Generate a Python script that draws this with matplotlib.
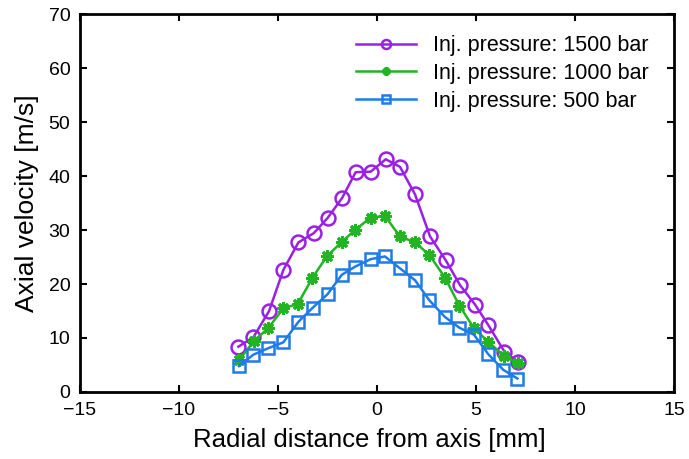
import matplotlib
matplotlib.use("Agg")
import matplotlib.pyplot as plt

plt.rcParams['font.family'] = ['Liberation Sans', 'DejaVu Sans']

x_1500 = [-7.0, -6.25, -5.45, -4.73, -3.97, -3.2, -2.5, -1.75, -1.08, -0.32,
          0.44, 1.16, 1.92, 2.68, 3.47, 4.19, 4.95, 5.62, 6.43, 7.14]
v_1500 = [8.4, 10.1, 15.0, 22.6, 27.7, 29.4, 32.2, 36.0, 40.7, 40.8,
          43.1, 41.7, 36.6, 28.8, 24.4, 19.8, 16.2, 12.4, 7.5, 5.5]

x_1000 = [-6.97, -6.2, -5.5, -4.73, -4.0, -3.27, -2.54, -1.78, -1.11, -0.32,
          0.4, 1.16, 1.92, 2.64, 3.43, 4.16, 4.9, 5.62, 6.41, 7.14]
v_1000 = [5.9, 9.5, 11.8, 15.5, 16.3, 21.1, 25.1, 27.8, 30.0, 32.3,
          32.6, 28.8, 27.7, 25.4, 21.2, 16.0, 11.8, 9.3, 6.7, 5.3]

x_500 = [-6.97, -6.25, -5.5, -4.73, -3.97, -3.25, -2.5, -1.78, -1.11, -0.32,
         0.4, 1.16, 1.92, 2.64, 3.43, 4.16, 4.9, 5.62, 6.38, 7.09]
v_500 = [4.8, 6.9, 8.1, 9.2, 13.0, 15.6, 18.1, 21.7, 23.2, 24.6,
         25.1, 22.9, 20.7, 17.0, 13.9, 11.9, 10.6, 7.0, 4.1, 2.5]

labels = ['Inj. pressure: 1500 bar', 'Inj. pressure: 1000 bar', 'Inj. pressure: 500 bar']
colors = ['#9A20E8', '#22B422', '#1E7BE8']

xticks = [-15, -10, -5, 0, 5, 10, 15]
yticks = [0, 10, 20, 30, 40, 50, 60, 70]

fig = plt.figure(figsize=(6.89, 4.59), dpi=100)
ax = fig.add_axes([80/689, 1-392/459, (674-80)/689, (392-14)/459])

ax.plot(x_1500, v_1500, '-o', color=colors[0], lw=1.8, ms=10, mfc='none', mew=1.8, label=labels[0])
ax.plot(x_1000, v_1000, '-', marker=(8, 2, 0), color=colors[1], lw=1.8, ms=9, mew=2.2, label=labels[1])
ax.plot(x_500, v_500, '-s', color=colors[2], lw=1.8, ms=8, mfc='none', mew=1.8, label=labels[2])

ax.set_xlim(-15, 15)
ax.set_ylim(0, 70)
ax.set_xticks(xticks)
ax.set_yticks(yticks)
ax.set_xticklabels(['\u2212' + str(-t) if t < 0 else str(t) for t in xticks])
ax.tick_params(direction='in', top=True, right=True, length=5, width=1.5,
               labelsize=14, pad=7)
for s in ax.spines.values():
    s.set_linewidth(2)

ax.set_xlabel('Radial distance from axis [mm]', fontsize=18.5, labelpad=4)
ax.xaxis.set_label_coords(0.488, -0.095)
ax.set_ylabel('Axial velocity [m/s]', fontsize=19, labelpad=7)

leg = ax.legend(loc='upper right', frameon=False, fontsize=15.5, markerscale=0.65,
                handlelength=2.8, handletextpad=0.8, labelspacing=0.32,
                bbox_to_anchor=(1 - 10/594, 1 - 6/378), borderaxespad=0.3)

fig.savefig('out.png', dpi=100)
